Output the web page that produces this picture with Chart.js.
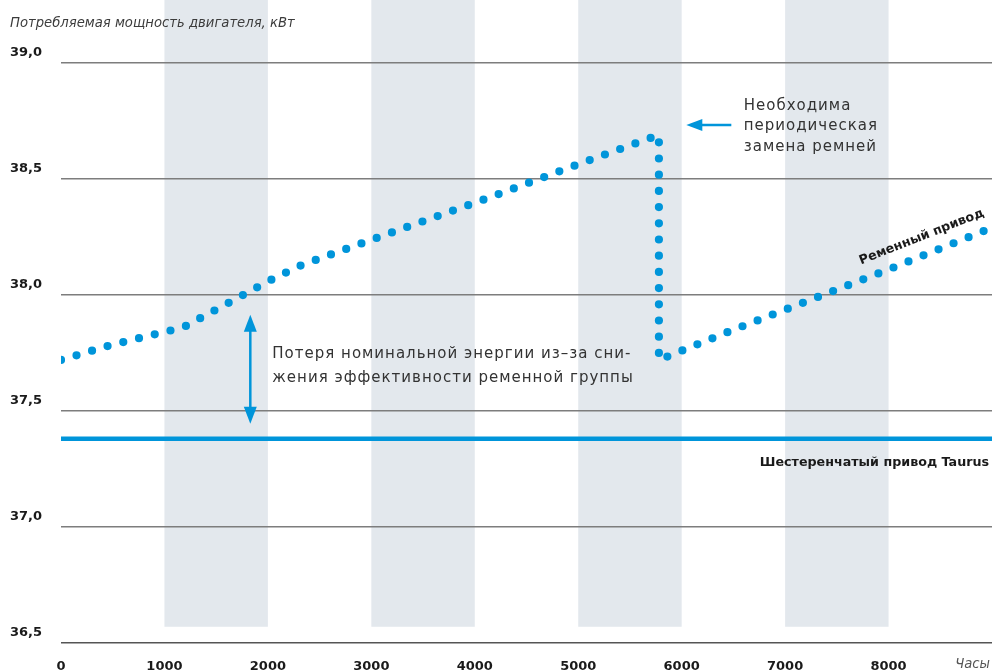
<!DOCTYPE html>
<html>
<head>
<meta charset="utf-8">
<script src="https://cdn.jsdelivr.net/npm/chart.js@4.4.1/dist/chart.umd.min.js"></script>
<style>
  html, body { margin: 0; padding: 0; background: #fff; }
</style>
</head>
<body>
<canvas id="chart" width="992" height="672"></canvas>
<script>
// data
const hourTicks = [0, 1000, 2000, 3000, 4000, 5000, 6000, 7000, 8000];
const powerTicks = [36.5, 37.0, 37.5, 38.0, 38.5, 39.0];
const shadedBands = [[1000, 2000], [3000, 4000], [5000, 6000], [7000, 8000]];

// belt drive, first cycle (rises until the belts are replaced)
const cycle1Hours = [0, 450, 900, 1180, 1470, 1760, 2050, 2330, 3200, 4080, 5100, 5780];
const cycle1Kw = [37.72, 37.78, 37.83, 37.86, 37.93, 38.00, 38.07, 38.13, 38.27, 38.41, 38.58, 38.69];
// belt drive, after replacement
const cycle2Hours = [5780, 6500, 7250, 8000, 9000];
const cycle2Kw = [37.72, 37.85, 37.98, 38.11, 38.29];
// Taurus gear drive
const taurusHours = [0, 9000];
const taurusKw = [37.38, 37.38];

const yTitle = 'Потребляемая мощность двигателя, кВт';
const xTitle = 'Часы';
const beltLabel = 'Ременный привод';
const taurusLabel = 'Шестеренчатый привод Taurus';
const replaceNote = ['Необходима', 'периодическая', 'замена ремней'];
const lossNote = ['Потеря номинальной энергии из–за сни-', 'жения эффективности ременной группы'];

const BLUE = '#0095da';
const TEXT = '#1a1a1a';
const NOTE = '#333333';

const beltPoints = cycle1Hours.map((h, i) => ({ x: h, y: cycle1Kw[i] }))
  .concat(cycle2Hours.map((h, i) => ({ x: h, y: cycle2Kw[i] })));
const taurusPoints = taurusHours.map((h, i) => ({ x: h, y: taurusKw[i] }));

function arrowHead(ctx, x, y, angle, len, half) {
  ctx.save();
  ctx.translate(x, y);
  ctx.rotate(angle);
  ctx.beginPath();
  ctx.moveTo(0, 0);
  ctx.lineTo(-len, -half);
  ctx.lineTo(-len, half);
  ctx.closePath();
  ctx.fill();
  ctx.restore();
}

const bandsPlugin = {
  id: 'bands',
  beforeDraw(chart) {
    const { ctx, scales: { x, y } } = chart;
    const bottom = y.getPixelForValue(36.57);
    ctx.save();
    ctx.fillStyle = '#e3e8ed';
    shadedBands.forEach(([a, b]) => {
      const x1 = x.getPixelForValue(a), x2 = x.getPixelForValue(b);
      ctx.fillRect(x1, 0, x2 - x1, bottom);
    });
    ctx.restore();
  }
};

const notesPlugin = {
  id: 'notes',
  afterDraw(chart) {
    const { ctx, scales: { x, y } } = chart;
    ctx.save();

    // axis titles
    ctx.fillStyle = '#3c3c3c';
    ctx.font = 'oblique 13.2px "DejaVu Sans"';
    ctx.textBaseline = 'alphabetic';
    ctx.textAlign = 'left';
    ctx.fillText(yTitle, 10, 27);
    ctx.fillStyle = '#555';
    ctx.textAlign = 'right';
    ctx.textBaseline = 'middle';
    ctx.fillText(xTitle, x.right - 2, 665);

    // series labels
    ctx.fillStyle = TEXT;
    ctx.font = 'bold 12.7px "DejaVu Sans"';
    ctx.textBaseline = 'alphabetic';
    ctx.fillText(taurusLabel, x.right - 3, y.getPixelForValue(37.38) + 27);

    ctx.save();
    ctx.translate(x.getPixelForValue(8320), y.getPixelForValue(38.25));
    ctx.rotate(-21.5 * Math.PI / 180);
    ctx.textAlign = 'center';
    ctx.textBaseline = 'middle';
    ctx.fillText(beltLabel, 0, 0);
    ctx.restore();

    // replacement arrow + note
    ctx.strokeStyle = BLUE;
    ctx.fillStyle = BLUE;
    ctx.lineWidth = 2.5;
    const ay = y.getPixelForValue(38.733);
    const tipX = x.getPixelForValue(6045), tailX = x.getPixelForValue(6480);
    ctx.beginPath();
    ctx.moveTo(tailX, ay);
    ctx.lineTo(tipX + 10, ay);
    ctx.stroke();
    arrowHead(ctx, tipX, ay, Math.PI, 16, 6);

    ctx.fillStyle = NOTE;
    ctx.font = '15px "DejaVu Sans"';
    ctx.letterSpacing = '1px';
    ctx.textAlign = 'left';
    const nx = x.getPixelForValue(6600);
    replaceNote.forEach((line, i) => ctx.fillText(line, nx, ay - 15 + i * 20.5));

    // loss arrow + note
    ctx.fillStyle = BLUE;
    const lx = x.getPixelForValue(1830);
    const top = y.getPixelForValue(37.915), bot = y.getPixelForValue(37.445);
    ctx.beginPath();
    ctx.moveTo(lx, top + 10);
    ctx.lineTo(lx, bot - 10);
    ctx.stroke();
    arrowHead(ctx, lx, top, -Math.PI / 2, 17, 6.5);
    arrowHead(ctx, lx, bot, Math.PI / 2, 17, 6.5);

    ctx.fillStyle = NOTE;
    const tx = x.getPixelForValue(2043), ty = y.getPixelForValue(37.728);
    lossNote.forEach((line, i) => ctx.fillText(line, tx, ty + i * 23.5));

    ctx.restore();
  }
};

new Chart(document.getElementById('chart'), {
  type: 'line',
  data: {
    datasets: [
      {
        label: beltLabel,
        data: beltPoints,
        borderColor: BLUE,
        borderWidth: 8.2,
        borderCapStyle: 'round',
        borderDash: [0, 16.2],
        pointRadius: 0,
        tension: 0,
        fill: false
      },
      {
        label: taurusLabel,
        data: taurusPoints,
        borderColor: BLUE,
        borderWidth: 4.5,
        pointRadius: 0,
        fill: false
      }
    ]
  },
  options: {
    responsive: false,
    animation: false,
    layout: { padding: { top: 63, left: 10, right: 0, bottom: 0 } },
    plugins: {
      legend: { display: false },
      tooltip: { enabled: false }
    },
    scales: {
      x: {
        type: 'linear',
        min: 0,
        max: 9000,
        afterBuildTicks: s => { s.ticks = hourTicks.map(v => ({ value: v })); },
        afterFit: s => { s.height = 29; },
        grid: { display: false, drawTicks: false },
        border: { display: false },
        ticks: {
          padding: 16,
          color: TEXT,
          font: { family: 'DejaVu Sans', size: 13, weight: 'bold' },
          callback: v => String(v)
        }
      },
      y: {
        min: 36.5,
        max: 39,
        afterBuildTicks: s => { s.ticks = powerTicks.map(v => ({ value: v })); },
        afterFit: s => { s.width = 51; },
        grid: {
          drawTicks: false,
          color: c => c.tick && c.tick.value === 36.5 ? '#555' : '#7d7d7d',
          lineWidth: 1.6
        },
        border: { display: false },
        ticks: {
          crossAlign: 'far',
          labelOffset: -10,
          padding: 0,
          color: TEXT,
          font: { family: 'DejaVu Sans', size: 13, weight: 'bold' },
          callback: v => v.toFixed(1).replace('.', ',')
        }
      }
    }
  },
  plugins: [bandsPlugin, notesPlugin]
});
</script>
</body>
</html>
